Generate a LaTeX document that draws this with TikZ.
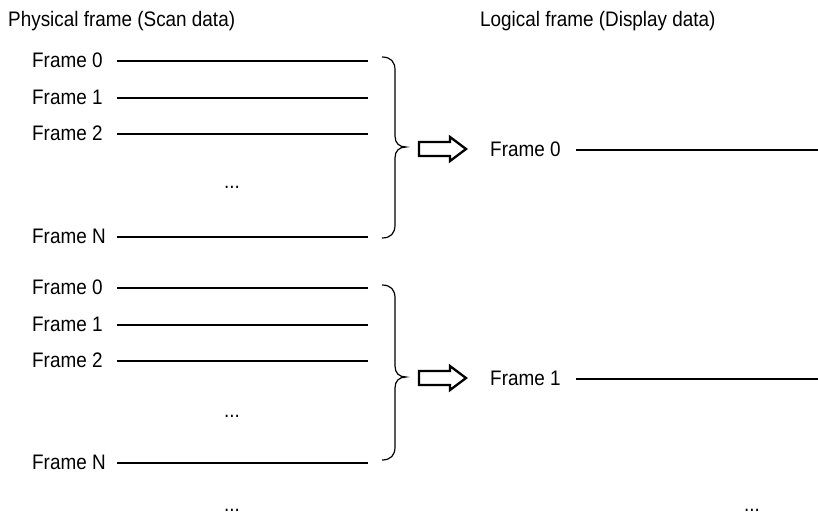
\documentclass[tikz,border=0pt]{standalone}
\usepackage{fontspec}
\setmainfont{Liberation Sans}[FakeStretch=0.9]
\begin{document}
\begin{tikzpicture}[x=1pt,y=-1pt,
  lbl/.style={anchor=base west,inner sep=0pt,font=\fontsize{21}{24}\selectfont},
  dots/.style={anchor=base,inner sep=0pt,font=\fontsize{21}{24}\selectfont},
  frameline/.style={line width=1.9pt},
  bracepath/.style={line width=1.2pt},
  blockarrow/.style={line width=2.3pt,line join=miter}]
\useasboundingbox (0,0) rectangle (818,517);
% titles
\node[lbl] (tphys) at (8,26) {Physical frame (Scan data)};
\node[lbl] (tlog) at (480,26) {Logical frame (Display data)};
% left frames
\foreach \g/\n/\y/\t in {a/0/61/Frame 0,a/1/98/Frame 1,a/2/134/Frame 2,a/N/237/Frame N,
                         b/0/288/Frame 0,b/1/325/Frame 1,b/2/361/Frame 2,b/N/463/Frame N}{
  \node[lbl] (p\g\n) at (32,\y+6.5) {\t};
  \coordinate (s\g\n) at (117,\y);
  \coordinate (e\g\n) at (368,\y);
  \draw[frameline] (s\g\n) -- (e\g\n);
}
\node[dots] (da) at (232,188) {...};
\node[dots] (db) at (232,417) {...};
\node[dots] (dl) at (232,511) {...};
\node[dots] (dr) at (752,511) {...};
% braces
\draw[bracepath] (382,57) .. controls (391,57) and (395,62) .. (395,70) -- (395,136)
  .. controls (395,143) and (399,147) .. (406,147)
  .. controls (399,147) and (395,151) .. (395,158) -- (395,225)
  .. controls (395,233) and (391,238) .. (382,238);
\draw[bracepath] (382,285) .. controls (391,285) and (395,290) .. (395,298) -- (395,366)
  .. controls (395,373) and (399,377) .. (406,377)
  .. controls (399,377) and (395,381) .. (395,388) -- (395,447)
  .. controls (395,455) and (391,460) .. (382,460);
% block arrows
\draw[blockarrow] (419,142) -- (450,142) -- (450,137) -- (466,149) -- (450,161) -- (450,156) -- (419,156) -- cycle;
\draw[blockarrow] (419,371) -- (450,371) -- (450,366) -- (466,378) -- (450,390) -- (450,385) -- (419,385) -- cycle;
% right frames
\node[lbl] (l0) at (490,156.5) {Frame 0};
\coordinate (ls0) at (576,150);
\coordinate (le0) at (818,150);
\draw[frameline] (ls0) -- (le0);
\node[lbl] (l1) at (490,385.5) {Frame 1};
\coordinate (ls1) at (576,379);
\coordinate (le1) at (818,379);
\draw[frameline] (ls1) -- (le1);
\end{tikzpicture}
\end{document}
